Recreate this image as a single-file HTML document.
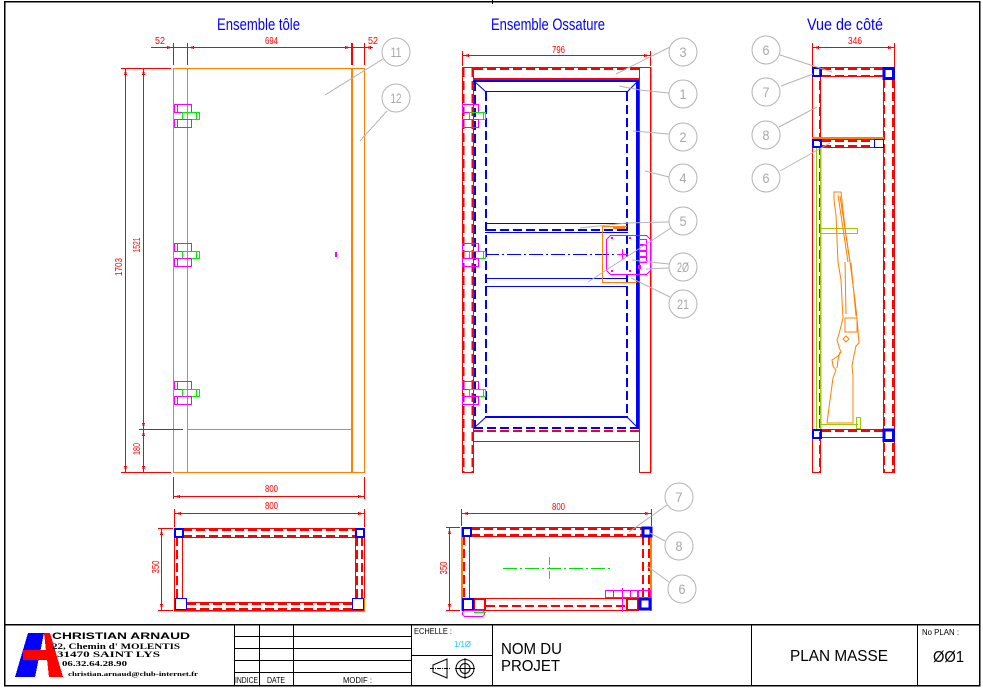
<!DOCTYPE html>
<html><head><meta charset="utf-8"><style>
html,body{margin:0;padding:0;background:#fff;}
svg{display:block;}
</style></head><body>
<svg width="983" height="690" viewBox="0 0 983 690" xmlns="http://www.w3.org/2000/svg" shape-rendering="crispEdges">
<style>
.r{stroke:#f00;fill:none}
.r2{stroke:#f00;fill:none;stroke-width:2}
.rd{stroke:#f00;fill:none;stroke-width:2;stroke-dasharray:9 4}
.b{stroke:#00f;fill:none}
.b2{stroke:#00f;fill:none;stroke-width:2}
.b3{stroke:#00f;fill:none;stroke-width:3}
.bd{stroke:#00f;fill:none;stroke-width:2;stroke-dasharray:9 4}
.bdd{stroke:#00f;fill:none;stroke-dasharray:14 3 2 3}
.gdd{stroke:#0d0;fill:none;stroke-dasharray:14 3 2 3}
.o{stroke:#ff8000;fill:none}
.o2{stroke:#ff8000;fill:none;stroke-width:2}
.m{stroke:#f0f;fill:none}
.g{stroke:#0e0;fill:none}
.yg{stroke:#9c0;fill:none}
.gl{stroke:#b4b4b4;fill:none}
.k{stroke:#000;fill:none}
.lt{fill:#a8a8a8;font-size:14px;text-anchor:middle;font-family:"Liberation Sans",sans-serif}
.dt{fill:#f00;font-size:10px;font-family:"Liberation Sans",sans-serif}
.tt{fill:#00f;font-size:17px;font-family:"Liberation Sans",sans-serif}
.bt{fill:#000;font-family:"Liberation Sans",sans-serif}
</style>

<!-- page frame -->
<rect class="k" x="4.5" y="1.5" width="975" height="684" stroke-width="1.5"/>
<line class="k" x1="492.5" y1="0" x2="492.5" y2="4"/>

<!-- ================= LEFT VIEW : Ensemble tole ================= -->
<text class="tt" x="217" y="30" textLength="83" lengthAdjust="spacingAndGlyphs">Ensemble tôle</text>
<line class="r" x1="151" y1="47.5" x2="373" y2="47.5"/>
<line class="r" x1="173.5" y1="43" x2="173.5" y2="65"/>
<line class="r" x1="187.5" y1="43" x2="187.5" y2="65"/>
<line class="r2" x1="352" y1="43" x2="352" y2="65"/>
<line class="r" x1="364.5" y1="43" x2="364.5" y2="65"/>
<g fill="#f00">
<polygon points="173,47.5 167,46 167,49"/><polygon points="188,47.5 194,46 194,49"/>
<polygon points="351,47.5 345,46 345,49"/><polygon points="365,47.5 371,46 371,49"/>
</g>
<text class="dt" x="155" y="44" textLength="10" lengthAdjust="spacingAndGlyphs">52</text>
<text class="dt" x="265" y="44" textLength="13" lengthAdjust="spacingAndGlyphs">694</text>
<text class="dt" x="368" y="44" textLength="10" lengthAdjust="spacingAndGlyphs">52</text>

<rect class="o" x="173.5" y="68.5" width="191" height="404"/>
<line class="o" x1="187.5" y1="68" x2="187.5" y2="472"/>
<line class="o2" x1="352" y1="68" x2="352" y2="472"/>
<line class="o" x1="187" y1="429.5" x2="352" y2="429.5"/>

<!-- left vertical dims -->
<line class="r" x1="121" y1="68.5" x2="171" y2="68.5"/>
<line class="r" x1="121" y1="472.5" x2="171" y2="472.5"/>
<line class="r" x1="139" y1="429.5" x2="183" y2="429.5"/>
<line class="r" x1="125.5" y1="68" x2="125.5" y2="472"/>
<line class="r" x1="143.5" y1="68" x2="143.5" y2="472"/>
<g fill="#f00">
<polygon points="125.5,69 124,75 127,75"/><polygon points="143.5,69 142,75 145,75"/>
<polygon points="125.5,472 124,466 127,466"/><polygon points="143.5,472 142,466 145,466"/>
<polygon points="143.5,429 142,423 145,423"/><polygon points="143.5,430 142,436 145,436"/>
</g>
<text class="dt" transform="translate(122,267) rotate(-90)" text-anchor="middle" textLength="18" lengthAdjust="spacingAndGlyphs">1703</text>
<text class="dt" transform="translate(140,245) rotate(-90)" text-anchor="middle" textLength="15" lengthAdjust="spacingAndGlyphs">1521</text>
<text class="dt" transform="translate(140,449) rotate(-90)" text-anchor="middle" textLength="12" lengthAdjust="spacingAndGlyphs">180</text>

<!-- hinges left -->
<g transform="translate(0,116)">
<rect class="m" x="174.5" y="-11.5" width="17" height="8"/><line class="m" x1="177.5" y1="-11" x2="177.5" y2="-4"/>
<rect class="g" x="182.5" y="-3.5" width="17" height="7"/><line class="g" x1="196.5" y1="-3" x2="196.5" y2="3"/>
<rect class="m" x="174.5" y="3.5" width="17" height="8"/><line class="m" x1="177.5" y1="4" x2="177.5" y2="11"/>
</g>
<g transform="translate(0,255)">
<rect class="m" x="174.5" y="-11.5" width="17" height="8"/><line class="m" x1="177.5" y1="-11" x2="177.5" y2="-4"/>
<rect class="g" x="182.5" y="-3.5" width="17" height="7"/><line class="g" x1="196.5" y1="-3" x2="196.5" y2="3"/>
<rect class="m" x="174.5" y="3.5" width="17" height="8"/><line class="m" x1="177.5" y1="4" x2="177.5" y2="11"/>
</g>
<g transform="translate(0,393)">
<rect class="m" x="174.5" y="-11.5" width="17" height="8"/><line class="m" x1="177.5" y1="-11" x2="177.5" y2="-4"/>
<rect class="g" x="182.5" y="-3.5" width="17" height="7"/><line class="g" x1="196.5" y1="-3" x2="196.5" y2="3"/>
<rect class="m" x="174.5" y="3.5" width="17" height="8"/><line class="m" x1="177.5" y1="4" x2="177.5" y2="11"/>
</g>
<rect x="335" y="252" width="2" height="5" fill="#f0f"/>

<!-- labels 11 12 -->
<circle class="gl" cx="396" cy="52" r="14" shape-rendering="auto"/>
<text class="lt" x="396" y="57" textLength="11" lengthAdjust="spacingAndGlyphs">11</text>
<circle class="gl" cx="396" cy="98" r="14" shape-rendering="auto"/>
<text class="lt" x="396" y="103" textLength="11" lengthAdjust="spacingAndGlyphs">12</text>
<line class="gl" x1="383" y1="59" x2="325" y2="95"/>
<line class="gl" x1="387" y1="111" x2="360" y2="141"/>

<!-- bottom dims left -->
<line class="r" x1="173.5" y1="477" x2="173.5" y2="499"/>
<line class="r" x1="364.5" y1="477" x2="364.5" y2="499"/>
<line class="r" x1="173" y1="496.5" x2="365" y2="496.5"/>
<text class="dt" x="265" y="492" textLength="13" lengthAdjust="spacingAndGlyphs">800</text>
<line class="r" x1="174.5" y1="509" x2="174.5" y2="527"/>
<line class="r" x1="364.5" y1="509" x2="364.5" y2="527"/>
<line class="r" x1="174" y1="513.5" x2="365" y2="513.5"/>
<text class="dt" x="265" y="509" textLength="13" lengthAdjust="spacingAndGlyphs">800</text>
<g fill="#f00">
<polygon points="174,496.5 180,495 180,498"/><polygon points="364,496.5 358,495 358,498"/>
<polygon points="175,513.5 181,512 181,515"/><polygon points="364,513.5 358,512 358,515"/>
</g>
<line class="r" x1="158" y1="528.5" x2="173" y2="528.5"/>
<line class="r" x1="158" y1="610.5" x2="173" y2="610.5"/>
<line class="r" x1="161.5" y1="528" x2="161.5" y2="610"/>
<g fill="#f00"><polygon points="161.5,529 160,535 163,535"/><polygon points="161.5,610 160,604 163,604"/></g>
<text class="dt" transform="translate(159,567) rotate(-90)" text-anchor="middle" textLength="13" lengthAdjust="spacingAndGlyphs">350</text>

<!-- bottom-left plan -->
<rect class="r" x="174.5" y="528.5" width="190" height="82"/>
<line class="r" x1="174" y1="537.5" x2="364" y2="537.5"/>
<line class="rd" x1="183" y1="530" x2="356" y2="530"/>
<line class="rd" x1="183" y1="536" x2="356" y2="536"/>
<line class="r" x1="182.5" y1="537" x2="182.5" y2="598"/>
<line class="rd" x1="177" y1="537" x2="177" y2="598"/>
<line class="r" x1="355.5" y1="537" x2="355.5" y2="598"/>
<line class="rd" x1="357" y1="537" x2="357" y2="598"/>
<line class="rd" x1="362" y1="537" x2="362" y2="598"/>
<rect class="r" x="186.5" y="602.5" width="166" height="8"/>
<line class="rd" x1="187" y1="604" x2="352" y2="604"/>
<line class="rd" x1="187" y1="609" x2="352" y2="609"/>
<rect class="b2" x="175" y="529" width="8" height="8"/>
<rect class="b2" x="356" y="529" width="8" height="8"/>
<rect class="b" x="175.5" y="598.5" width="11" height="11"/>
<rect class="b" x="352.5" y="598.5" width="11" height="11"/>
<line class="o" x1="174" y1="611.5" x2="365" y2="611.5"/>
<line class="o" x1="364.5" y1="598" x2="364.5" y2="611"/>

<!-- ================= MIDDLE VIEW : Ensemble Ossature ================= -->
<text class="tt" x="491" y="30" textLength="114" lengthAdjust="spacingAndGlyphs">Ensemble Ossature</text>
<line class="r" x1="462" y1="55.5" x2="651" y2="55.5"/>
<line class="r" x1="462.5" y1="51" x2="462.5" y2="66"/>
<line class="r" x1="650.5" y1="51" x2="650.5" y2="66"/>
<g fill="#f00"><polygon points="463,55.5 469,54 469,57"/><polygon points="650,55.5 644,54 644,57"/></g>
<text class="dt" x="552" y="53" textLength="13" lengthAdjust="spacingAndGlyphs">796</text>

<!-- posts -->
<rect class="r" x="462.5" y="67.5" width="11" height="405"/>
<line class="rd" x1="463.5" y1="68" x2="463.5" y2="472"/>
<line class="rd" x1="472.5" y1="68" x2="472.5" y2="472"/>
<rect class="r" x="639.5" y="67.5" width="11" height="405"/>
<rect x="650" y="67" width="1.5" height="405" fill="#f00"/>
<!-- top rail -->
<line class="r" x1="462" y1="67.5" x2="651" y2="67.5"/>
<line class="rd" x1="474" y1="69" x2="639" y2="69"/>
<line class="r2" x1="473" y1="79" x2="639" y2="79"/>
<!-- bottom rail -->
<line class="rd" x1="474" y1="431" x2="639" y2="431"/>
<line class="r" x1="473" y1="441.5" x2="639" y2="441.5"/>
<line class="r" x1="473.5" y1="429" x2="473.5" y2="441"/>

<!-- blue door frame -->
<line class="b2" x1="473" y1="81" x2="639" y2="81"/>
<line class="bd" x1="475" y1="82" x2="475" y2="428"/>
<line class="b2" x1="638" y1="80" x2="638" y2="429"/>
<line class="b" x1="636.5" y1="80" x2="636.5" y2="429"/>
<line class="bd" x1="474" y1="428" x2="639" y2="428"/>
<line class="b" x1="485" y1="91.5" x2="627" y2="91.5"/>
<line class="bd" x1="486" y1="92" x2="486" y2="417"/>
<line class="bd" x1="627" y1="92" x2="627" y2="417"/>
<line class="b2" x1="485" y1="417" x2="628" y2="417"/>
<g shape-rendering="auto">
<line class="b" x1="474" y1="81" x2="486" y2="92"/>
<line class="b" x1="638" y1="81" x2="627" y2="92"/>
<line class="b" x1="474" y1="428" x2="486" y2="417"/>
<line class="b" x1="638" y1="428" x2="627" y2="417"/>
</g>
<!-- cross member -->
<line class="b" x1="485" y1="223.5" x2="628" y2="223.5"/>
<line class="bd" x1="487" y1="230" x2="626" y2="230"/>
<line class="b" x1="485" y1="232.5" x2="628" y2="232.5"/>
<line class="b" x1="485" y1="278.5" x2="628" y2="278.5"/>
<line class="b" x1="485" y1="286.5" x2="628" y2="286.5"/>
<line class="bdd" x1="485" y1="254.5" x2="616" y2="254.5"/>

<!-- orange lock plate -->
<polyline class="o" points="627,226.5 602.5,226.5 602.5,282.5 637,282.5"/>
<line class="o2" x1="613" y1="228" x2="625" y2="228"/>
<!-- magenta lock -->
<polygon class="m" points="610.5,235.5 646.5,235.5 650.5,239.5 650.5,270.5 646.5,274.5 610.5,274.5 606.5,270.5 606.5,239.5"/>
<line class="m" x1="622.5" y1="249" x2="622.5" y2="260"/>
<line class="m" x1="617" y1="254.5" x2="628" y2="254.5"/>
<rect class="m" x="639.5" y="239.5" width="7" height="5"/>
<rect class="m" x="639.5" y="245.5" width="7" height="5"/>
<rect class="m" x="639.5" y="251.5" width="7" height="5"/>
<rect class="m" x="639.5" y="257.5" width="7" height="5"/>
<rect x="638" y="265" width="3" height="4" fill="#f0f"/>
<g fill="#f0f"><rect x="611" y="237" width="2" height="2"/><rect x="629" y="237" width="2" height="2"/><rect x="611" y="270" width="2" height="2"/><rect x="629" y="270" width="2" height="2"/></g>

<!-- hinges middle -->
<g transform="translate(0,116)">
<rect class="m" x="462.5" y="-11.5" width="16" height="8"/>
<rect class="g" x="469.5" y="-3.5" width="16" height="7"/><line class="g" x1="483.5" y1="-3" x2="483.5" y2="3"/>
<rect class="m" x="462.5" y="3.5" width="16" height="8"/>
</g>
<g transform="translate(0,255)">
<rect class="m" x="462.5" y="-11.5" width="16" height="8"/>
<rect class="g" x="469.5" y="-3.5" width="16" height="7"/><line class="g" x1="483.5" y1="-3" x2="483.5" y2="3"/>
<rect class="m" x="462.5" y="3.5" width="16" height="8"/>
</g>
<g transform="translate(0,393)">
<rect class="m" x="462.5" y="-11.5" width="16" height="8"/>
<rect class="g" x="469.5" y="-3.5" width="16" height="7"/><line class="g" x1="483.5" y1="-3" x2="483.5" y2="3"/>
<rect class="m" x="462.5" y="3.5" width="16" height="8"/>
</g>

<!-- middle labels -->
<g shape-rendering="auto">
<circle class="gl" cx="683" cy="52" r="14"/><text class="lt" x="683" y="57" textLength="7" lengthAdjust="spacingAndGlyphs">3</text>
<circle class="gl" cx="683" cy="94" r="14"/><text class="lt" x="683" y="99" textLength="7" lengthAdjust="spacingAndGlyphs">1</text>
<circle class="gl" cx="683" cy="137" r="14"/><text class="lt" x="683" y="142" textLength="7" lengthAdjust="spacingAndGlyphs">2</text>
<circle class="gl" cx="683" cy="178" r="14"/><text class="lt" x="683" y="183" textLength="7" lengthAdjust="spacingAndGlyphs">4</text>
<circle class="gl" cx="683" cy="221" r="14"/><text class="lt" x="683" y="226" textLength="7" lengthAdjust="spacingAndGlyphs">5</text>
<circle class="gl" cx="683" cy="267" r="14"/><text class="lt" x="683" y="272" textLength="12" lengthAdjust="spacingAndGlyphs">2Ø</text>
<circle class="gl" cx="683" cy="304" r="14"/><text class="lt" x="683" y="309" textLength="12" lengthAdjust="spacingAndGlyphs">21</text>
<line class="gl" x1="670" y1="47" x2="616" y2="74"/>
<polyline class="gl" points="669,93 640,90 619,86"/>
<line class="gl" x1="669" y1="134" x2="633" y2="131"/>
<line class="gl" x1="669" y1="177" x2="645" y2="171"/>
<polyline class="gl" points="669,222 627,223 580,228"/>
<line class="gl" x1="671" y1="228" x2="588" y2="282"/>
<line class="gl" x1="669" y1="264" x2="632" y2="260"/>
<line class="gl" x1="669" y1="268" x2="646" y2="269"/>
<line class="gl" x1="670" y1="297" x2="631" y2="278"/>
</g>

<!-- middle bottom plan -->
<line class="r" x1="461" y1="513.5" x2="652" y2="513.5"/>
<line class="r" x1="461.5" y1="509" x2="461.5" y2="526"/>
<line class="r" x1="651.5" y1="509" x2="651.5" y2="526"/>
<g fill="#f00"><polygon points="462,513.5 468,512 468,515"/><polygon points="651,513.5 645,512 645,515"/></g>
<text class="dt" x="552" y="510" textLength="13" lengthAdjust="spacingAndGlyphs">800</text>
<line class="r" x1="446" y1="527.5" x2="460" y2="527.5"/>
<line class="r" x1="446" y1="610.5" x2="460" y2="610.5"/>
<line class="r" x1="449.5" y1="527" x2="449.5" y2="610"/>
<g fill="#f00"><polygon points="449.5,528 448,534 451,534"/><polygon points="449.5,610 448,604 451,604"/></g>
<text class="dt" transform="translate(447,568) rotate(-90)" text-anchor="middle" textLength="13" lengthAdjust="spacingAndGlyphs">350</text>

<line class="o2" x1="462" y1="527" x2="462" y2="611"/>
<line class="o2" x1="651" y1="527" x2="651" y2="611"/>
<rect class="r" x="462.5" y="527.5" width="188" height="9"/>
<line class="rd" x1="471" y1="529" x2="643" y2="529"/>
<line class="rd" x1="471" y1="535" x2="643" y2="535"/>
<line class="r" x1="469.5" y1="536" x2="469.5" y2="598"/>
<line class="rd" x1="464" y1="536" x2="464" y2="598"/>
<line class="rd" x1="643" y1="536" x2="643" y2="598"/>
<line class="rd" x1="649" y1="536" x2="649" y2="598"/>
<line class="r" x1="469" y1="598.5" x2="639" y2="598.5"/>
<line class="r" x1="473" y1="610.5" x2="639" y2="610.5"/>
<line class="rd" x1="486" y1="606" x2="627" y2="606"/>
<rect class="r2" x="474" y="599" width="11" height="11"/>
<rect class="r2" x="627" y="599" width="11" height="11"/>
<rect class="b2" x="463" y="528" width="8" height="8"/>
<rect class="b3" x="643" y="528" width="8" height="8"/>
<rect class="b2" x="463" y="599" width="10" height="11"/>
<rect class="b3" x="640" y="599" width="10" height="10"/>
<line class="gdd" x1="503" y1="568.5" x2="613" y2="568.5"/>
<line class="g" x1="549.5" y1="557" x2="549.5" y2="580" stroke-dasharray="8 2 2 2"/>
<rect class="m" x="605.5" y="590.5" width="32" height="7"/>
<line class="m" x1="613.5" y1="590" x2="613.5" y2="597"/>
<line class="m" x1="622.5" y1="588" x2="622.5" y2="612"/>
<line class="m" x1="630.5" y1="590" x2="630.5" y2="597"/>
<rect class="m" x="638.5" y="590.5" width="12" height="7"/>
<rect class="m" x="462.5" y="610.5" width="22" height="6" rx="3"/>
<line class="g" x1="474" y1="612.5" x2="486" y2="612.5"/>

<g shape-rendering="auto">
<circle class="gl" cx="679" cy="497" r="14"/><text class="lt" x="679" y="502" textLength="7" lengthAdjust="spacingAndGlyphs">7</text>
<circle class="gl" cx="679" cy="546" r="14"/><text class="lt" x="679" y="551" textLength="7" lengthAdjust="spacingAndGlyphs">8</text>
<circle class="gl" cx="682" cy="589" r="14"/><text class="lt" x="682" y="594" textLength="7" lengthAdjust="spacingAndGlyphs">6</text>
<line class="gl" x1="667" y1="505" x2="629" y2="532"/>
<line class="gl" x1="665" y1="541" x2="650" y2="533"/>
<line class="gl" x1="669" y1="582" x2="647" y2="566"/>
</g>

<!-- ================= RIGHT VIEW : Vue de cote ================= -->
<text class="tt" x="807" y="30" textLength="76" lengthAdjust="spacingAndGlyphs">Vue de côté</text>
<line class="r" x1="812" y1="47.5" x2="895" y2="47.5"/>
<line class="r" x1="812.5" y1="43" x2="812.5" y2="67"/>
<line class="r" x1="894.5" y1="43" x2="894.5" y2="67"/>
<g fill="#f00"><polygon points="813,47.5 819,46 819,49"/><polygon points="894,47.5 888,46 888,49"/></g>
<text class="dt" x="848" y="44" textLength="14" lengthAdjust="spacingAndGlyphs">346</text>

<!-- posts -->
<rect class="r" x="812.5" y="67.5" width="8" height="405"/>
<line class="rd" x1="820" y1="68" x2="820" y2="472"/>
<rect class="r" x="883.5" y="67.5" width="11" height="405"/>
<line class="rd" x1="884" y1="79" x2="884" y2="472"/>
<line class="rd" x1="893" y1="79" x2="893" y2="472"/>
<!-- top rail -->
<rect class="r" x="820.5" y="67.5" width="63" height="9"/>
<line class="rd" x1="822" y1="69" x2="883" y2="69"/>
<line class="rd" x1="822" y1="76" x2="883" y2="76"/>
<rect class="b2" x="813" y="68" width="8" height="8"/>
<rect class="b3" x="884" y="68.5" width="9.5" height="10"/>
<!-- middle rail -->
<line class="o2" x1="812" y1="138" x2="884" y2="138"/>
<rect class="r" x="820.5" y="139.5" width="63" height="8"/>
<line class="rd" x1="822" y1="141" x2="874" y2="141"/>
<line class="rd" x1="822" y1="146" x2="874" y2="146"/>
<rect class="b2" x="813" y="140" width="8" height="7"/>
<rect class="b" x="874.5" y="139.5" width="9" height="8"/>
<!-- green rack -->
<line class="yg" x1="816.5" y1="148" x2="816.5" y2="429"/>
<line class="yg" x1="820.5" y1="148" x2="820.5" y2="429" stroke-width="1.5"/>
<rect class="yg" x="820.5" y="228.5" width="37" height="5"/>
<line class="yg" x1="820" y1="424.5" x2="858" y2="424.5"/>
<rect class="yg" x="856.5" y="417.5" width="4" height="11"/>
<!-- bottom rail -->
<line class="r" x1="820" y1="429.5" x2="884" y2="429.5"/>
<line class="rd" x1="822" y1="431" x2="883" y2="431"/>
<line class="r" x1="820" y1="437.5" x2="884" y2="437.5"/>
<rect class="b2" x="813" y="430" width="8" height="8"/>
<rect class="b3" x="884" y="430" width="9.5" height="10.5"/>
<!-- gun -->
<g shape-rendering="auto">
<polygon class="o" points="834,192 841,192 843,210 846,235 850,262 853,285 855,300 857,318 858,330 859,343 856,346 854,355 852,366 853,376 853,423 827,423 830,400 833,378 836,370 833,366 832,360 838,356 841,352 839,347 837,340 839,334 843,318 842,300 841,280 838,262 837,240 836,215 834,200"/>
<line class="o" x1="838" y1="195" x2="848" y2="262"/>
<line class="o" x1="840" y1="196" x2="850" y2="262"/>
<line class="o" x1="851" y1="263" x2="856" y2="316"/>
<line class="o" x1="845" y1="262" x2="846" y2="314"/>
<rect class="o" x="845" y="318" width="12" height="14"/>
<polygon class="o" points="843,339 846,336 849,339 846,342"/>
<polyline class="o" points="840,352 838,360 837,368"/>
</g>
<!-- right labels -->
<g shape-rendering="auto">
<circle class="gl" cx="766" cy="50" r="14"/><text class="lt" x="766" y="55" textLength="7" lengthAdjust="spacingAndGlyphs">6</text>
<circle class="gl" cx="766" cy="92" r="14"/><text class="lt" x="766" y="97" textLength="7" lengthAdjust="spacingAndGlyphs">7</text>
<circle class="gl" cx="766" cy="135" r="14"/><text class="lt" x="766" y="140" textLength="7" lengthAdjust="spacingAndGlyphs">8</text>
<circle class="gl" cx="766" cy="178" r="14"/><text class="lt" x="766" y="183" textLength="7" lengthAdjust="spacingAndGlyphs">6</text>
<line class="gl" x1="780" y1="55" x2="832" y2="72"/>
<line class="gl" x1="781" y1="86" x2="813" y2="74"/>
<line class="gl" x1="779" y1="127" x2="817" y2="107"/>
<line class="gl" x1="780" y1="171" x2="830" y2="143"/>
</g>

<!-- ================= TITLE BLOCK ================= -->
<rect class="k" x="4.5" y="624.5" width="975" height="61" stroke-width="1.5"/>
<line class="k" x1="234.5" y1="624" x2="234.5" y2="685"/>
<line class="k" x1="259.5" y1="624" x2="259.5" y2="685"/>
<line class="k" x1="293.5" y1="624" x2="293.5" y2="685"/>
<line class="k" x1="411.5" y1="624" x2="411.5" y2="685"/>
<line class="k" x1="492.5" y1="624" x2="492.5" y2="685"/>
<line class="k" x1="751.5" y1="624" x2="751.5" y2="685"/>
<line class="k" x1="917.5" y1="624" x2="917.5" y2="685"/>
<line class="k" x1="234" y1="636.5" x2="411" y2="636.5"/>
<line class="k" x1="234" y1="648.5" x2="411" y2="648.5"/>
<line class="k" x1="234" y1="660.5" x2="411" y2="660.5"/>
<line class="k" x1="234" y1="672.5" x2="411" y2="672.5"/>
<line class="k" x1="411" y1="655.5" x2="492" y2="655.5"/>

<text class="bt" x="235" y="683" font-size="8" textLength="23" lengthAdjust="spacingAndGlyphs">INDICE</text>
<text class="bt" x="267" y="683" font-size="8" textLength="18" lengthAdjust="spacingAndGlyphs">DATE</text>
<text class="bt" x="343" y="683" font-size="8" textLength="29" lengthAdjust="spacingAndGlyphs">MODIF :</text>
<text class="bt" x="414" y="634" font-size="8" textLength="38" lengthAdjust="spacingAndGlyphs">ECHELLE :</text>
<text x="454" y="647" font-size="8" fill="#00c8ff" font-family="Liberation Sans,sans-serif" textLength="17" lengthAdjust="spacingAndGlyphs">1/1Ø</text>
<!-- projection icons -->
<g shape-rendering="auto">
<polygon class="k" points="433,665 447,659 447,678 433,672"/>
<line class="k" x1="430" y1="668.5" x2="450" y2="668.5" stroke-dasharray="4 1 1 1"/>
<circle class="k" cx="465" cy="668.5" r="9"/>
<circle class="k" cx="465" cy="668.5" r="5"/>
<line class="k" x1="455" y1="668.5" x2="475" y2="668.5"/>
<line class="k" x1="465" y1="658" x2="465" y2="679"/>
</g>
<text class="bt" x="501" y="654" font-size="16" textLength="61" lengthAdjust="spacingAndGlyphs">NOM DU</text>
<text class="bt" x="501" y="671" font-size="16" textLength="59" lengthAdjust="spacingAndGlyphs">PROJET</text>
<text class="bt" x="790" y="661" font-size="16" textLength="98" lengthAdjust="spacingAndGlyphs">PLAN MASSE</text>
<text class="bt" x="922" y="635" font-size="8" textLength="37" lengthAdjust="spacingAndGlyphs">No PLAN :</text>
<text class="bt" x="933" y="662" font-size="16" textLength="31" lengthAdjust="spacingAndGlyphs">ØØ1</text>

<!-- logo -->
<polygon points="15,677 28,633 44,633 35,677" fill="#0000ff"/>
<polygon points="44,633 50,633 63,677 49,677" fill="#ff0000"/>
<polygon points="36,633 44,633 40,645" fill="#0000ff"/>
<rect x="23" y="650" width="32" height="10" fill="#ff0000"/>
<text x="52" y="639" font-size="9" font-weight="bold" fill="#000" font-family="Liberation Sans,sans-serif" textLength="138" lengthAdjust="spacingAndGlyphs">CHRISTIAN  ARNAUD</text>
<text x="52" y="649" font-size="8" font-weight="bold" fill="#000" font-family="Liberation Serif,serif" textLength="128" lengthAdjust="spacingAndGlyphs">22, Chemin d' MOLENTIS</text>
<text x="57" y="657" font-size="8" font-weight="bold" fill="#000" font-family="Liberation Serif,serif" textLength="103" lengthAdjust="spacingAndGlyphs">31470 SAINT  LYS</text>
<text x="62" y="666" font-size="7" font-weight="bold" fill="#000" font-family="Liberation Serif,serif" textLength="65" lengthAdjust="spacingAndGlyphs">06.32.64.28.90</text>
<text x="68" y="676" font-size="6" font-weight="bold" fill="#000" font-family="Liberation Serif,serif" textLength="130" lengthAdjust="spacingAndGlyphs">christian.arnaud@club-internet.fr</text>
</svg>
</body></html>
